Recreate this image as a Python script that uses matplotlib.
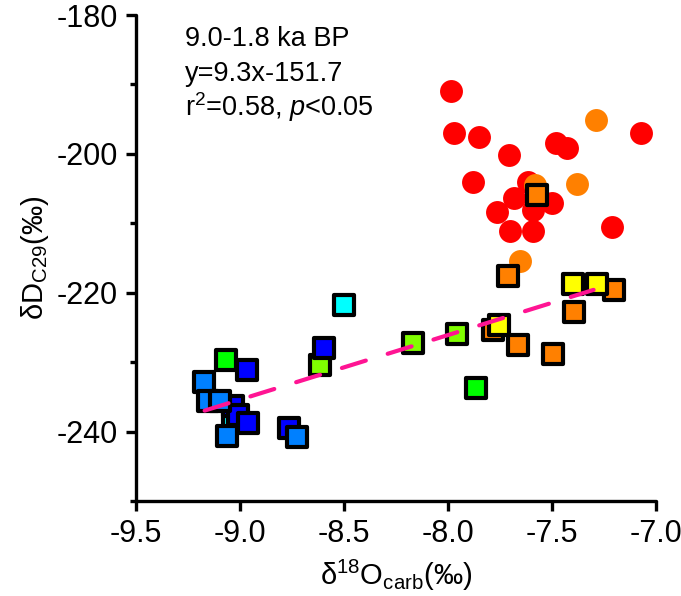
import matplotlib
matplotlib.use("Agg")
import matplotlib.pyplot as plt
import numpy as np

plt.rcParams['font.family'] = ['Liberation Sans', 'DejaVu Sans']
plt.rcParams['mathtext.fontset'] = 'custom'
plt.rcParams['mathtext.rm'] = 'Liberation Sans'
plt.rcParams['mathtext.it'] = 'Liberation Sans:italic'
plt.rcParams['mathtext.bf'] = 'Liberation Sans:bold'
plt.rcParams['axes.unicode_minus'] = False

# ---- data ----
red_circ_x = [-7.987, -7.970, -7.851, -7.708, -7.481, -7.426, -7.072, -7.878, -7.614,
              -7.683, -7.766, -7.702, -7.590, -7.501, -7.590, -7.213]
red_circ_y = [-190.9, -197.0, -197.5, -200.2, -198.5, -199.2, -197.0, -204.0, -204.0,
              -206.4, -208.4, -211.1, -211.1, -207.1, -208.1, -210.5]
orange_circ_x = [-7.290, -7.380, -7.582, -7.654]
orange_circ_y = [-195.1, -204.3, -204.5, -215.4]

orange_sq_x = [-7.574, -7.713, -7.782, -7.662, -7.202, -7.393, -7.497]
orange_sq_y = [-205.9, -217.6, -225.4, -227.6, -219.6, -222.8, -228.8]
yellow_sq_x = [-7.755, -7.401, -7.282]
yellow_sq_y = [-224.7, -218.8, -218.7]
lime_sq_x = [-8.170, -7.955, -8.615]
lime_sq_y = [-227.2, -226.0, -230.4]
green_sq_x = [-7.865, -9.069]
green_sq_y = [-233.7, -229.7]
cyan_sq_x = [-8.500, -9.032]
cyan_sq_y = [-221.7, -238.5]
blue_sq_x = [-8.595, -8.968, -9.032, -9.008, -8.960, -8.763]
blue_sq_y = [-228.0, -231.1, -236.3, -237.6, -238.8, -239.5]
azure_sq_x = [-9.173, -9.152, -9.096, -9.064, -8.725]
azure_sq_y = [-232.8, -235.6, -235.6, -240.6, -240.8]

fit_slope = 9.3
fit_intercept = -151.7
fit_x_range = [-9.17, -7.30]

xticks = [-9.5, -9.0, -8.5, -8.0, -7.5, -7.0]
xticklabels = ['-9.5', '-9.0', '-8.5', '-8.0', '-7.5', '-7.0']
yticks = [-240, -220, -200, -180]
yticklabels = ['-240', '-220', '-200', '-180']
yminor = [-250, -230, -210, -190]

# ---- figure ----
fig = plt.figure(figsize=(6.81, 5.96), dpi=100)
ax = fig.add_axes([136/681, 1-501/596, (656-136)/681, (501-15)/596])

circ_s = 272
sq_s = 210
ax.scatter(red_circ_x, red_circ_y, s=circ_s, c='#FF0000', marker='o', linewidths=0, zorder=2)
ax.scatter(orange_circ_x, orange_circ_y, s=circ_s, c='#FF8000', marker='o', linewidths=0, zorder=2)

sq_groups = [
    (orange_sq_x, orange_sq_y, '#FF8000'),
    (yellow_sq_x, yellow_sq_y, '#FFFF00'),
    (lime_sq_x, lime_sq_y, '#80FF00'),
    (green_sq_x, green_sq_y, '#00FF00'),
    (cyan_sq_x, cyan_sq_y, '#00FFFF'),
    (blue_sq_x, blue_sq_y, '#0000FF'),
    (azure_sq_x, azure_sq_y, '#0080FF'),
]
for gx, gy, col in sq_groups:
    ax.scatter(gx, gy, s=sq_s, c=col, marker='s', edgecolors='black', linewidths=3.0, zorder=3)

fx = np.array(fit_x_range)
fy = fit_slope * fx + fit_intercept
ax.plot(fx, fy, color='#FF1493', lw=3.0, ls=(0, (6, 5.5)), dash_capstyle='round', zorder=4)

ax.set_xlim(-9.5, -7.0)
ax.set_ylim(-250, -180)
ax.set_xticks(xticks)
ax.set_xticklabels(xticklabels)
ax.set_yticks(yticks)
ax.set_yticklabels(yticklabels)
ax.set_yticks(yminor, minor=True)

for s in ['top', 'right']:
    ax.spines[s].set_visible(False)
for s in ['left', 'bottom']:
    ax.spines[s].set_linewidth(2.4)
    ax.spines[s].set_capstyle('round')

ax.tick_params(axis='both', which='major', direction='out', length=7, width=2.4,
               labelsize=22, pad=6)
ax.tick_params(axis='y', which='minor', direction='out', length=4, width=2.4)

ax.set_xlabel(r'δ$^{18}$O$_{\rm carb}$(‰)', fontsize=21, labelpad=6)
ax.set_ylabel(r'δD$_{\rm C29}$(‰)', fontsize=21, labelpad=4)

ax.text(185/681, 1-46/596, '9.0-1.8 ka BP', transform=fig.transFigure, fontsize=19.5, va='baseline')
ax.text(185/681, 1-81/596, 'y=9.3x-151.7', transform=fig.transFigure, fontsize=19.5, va='baseline')
ax.text(185/681, 1-116/596, r'r$^{2}$=0.58, $\it{p}$<0.05', transform=fig.transFigure,
        fontsize=19.5, va='baseline')

fig.savefig('out.png', dpi=100)
